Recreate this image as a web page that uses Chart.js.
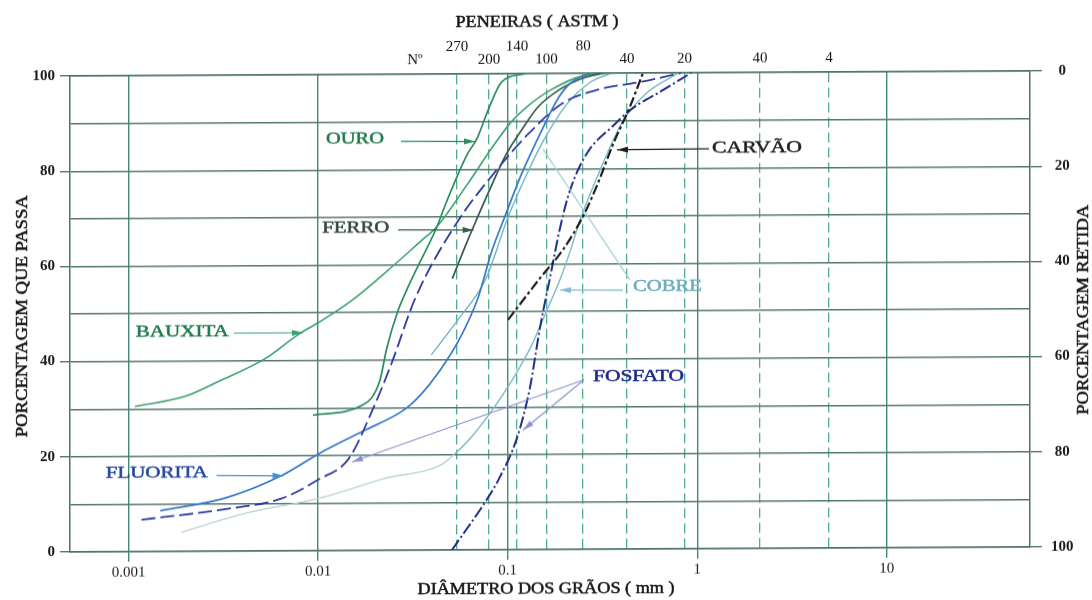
<!DOCTYPE html>
<html>
<head>
<meta charset="utf-8">
<title>Curvas granulométricas</title>
<script src="https://cdn.jsdelivr.net/npm/chart.js@4.4.1/dist/chart.umd.min.js"></script>
<style>
  html, body { margin: 0; padding: 0; background: #fff; }
  /* the printed sheet sits slightly tilted */
  #wrap { width: 1092px; height: 600px; transform: skewY(-0.3deg); transform-origin: 70px 0; }
</style>
</head>
<body>
<div id="wrap"><canvas id="granChart"></canvas></div>
<script>
// diâmetro dos grãos (mm) e porcentagem que passa, por minério
const bauxitaD = [0.00108, 0.002, 0.003, 0.0052, 0.0079, 0.0101, 0.015, 0.023, 0.035, 0.042, 0.061, 0.0827, 0.105, 0.126, 0.168, 0.25, 0.35];
const bauxitaP = [30.5, 32.6, 35.7, 40.3, 45.5, 48, 52.5, 58.6, 65, 67.8, 76.7, 84.5, 90, 93, 96.5, 99.5, 100];

const ouroD = [0.0094, 0.0171, 0.0211, 0.023, 0.0262, 0.0292, 0.033, 0.042, 0.0474, 0.061, 0.069, 0.08, 0.093, 0.124];
const ouroP = [28.5, 30.5, 35.5, 42.4, 50, 54.5, 59, 67.6, 73, 83, 86.5, 93, 98.3, 100];

const ferroD = [0.051, 0.06, 0.0655, 0.08, 0.098, 0.12, 0.144, 0.186, 0.25, 0.32];
const ferroP = [57, 64, 67.6, 75.5, 83, 88.5, 92.9, 96.5, 99, 100];

const fluoritaD = [0.00147, 0.0032, 0.0064, 0.0101, 0.0171, 0.0284, 0.0345, 0.0435, 0.056, 0.0698, 0.0825, 0.096, 0.118, 0.151, 0.186, 0.215, 0.27];
const fluoritaP = [8.6, 11.1, 15.8, 20.4, 25, 29.5, 32.5, 37.5, 44.5, 53, 62.8, 69.7, 78.8, 88, 95, 98, 100];

const cobre1D = [0.0395, 0.055, 0.0768, 0.1, 0.13, 0.155, 0.2, 0.27, 0.35];
const cobre1P = [41, 48.5, 57, 69.7, 80, 86, 93, 98, 100];

const cobre2D = [0.0019, 0.0042, 0.0101, 0.022, 0.045, 0.052, 0.062, 0.08, 0.105, 0.134, 0.16, 0.19, 0.215, 0.24, 0.295, 0.4, 0.53, 0.8];
const cobre2P = [4, 8, 11, 15, 18, 20, 23, 28.5, 35.5, 43, 50, 57, 63, 69, 78, 89.5, 95.5, 100];

const fosfatoFinoD = [0.00117, 0.0032, 0.0064, 0.0101, 0.0145, 0.0195, 0.0242, 0.0326, 0.053, 0.0866, 0.129, 0.194, 0.29, 0.53, 0.82];
const fosfatoFinoP = [6.7, 8.8, 11, 15, 19.3, 29.8, 38.9, 53, 68.3, 79.6, 87.4, 93.7, 96.4, 98.3, 100];

const fosfatoGrossoD = [0.0508, 0.0806, 0.0902, 0.112, 0.131, 0.148, 0.167, 0.189, 0.213, 0.262, 0.359, 0.442, 0.659, 0.93];
const fosfatoGrossoP = [0, 11.6, 15, 23.5, 34, 46.6, 57, 67.6, 75.4, 83.2, 88.9, 92.2, 96.4, 100];

const carvaoD = [0.1004, 0.148, 0.196, 0.25, 0.3, 0.359, 0.442, 0.517];
const carvaoP = [48.3, 57, 63, 70, 77, 85, 93, 100];

// eixos
const decadeTicks = [0.001, 0.01, 0.1, 1, 10];
const decadeLabels = ['0.001', '0.01', '0.1', '1', '10'];
const sieveSizes = [0.054, 0.0797, 0.112, 0.16, 0.25, 0.4257, 0.856, 2.14, 4.95];
const sieveLabels = ['270', '200', '140', '100', '80', '40', '20', '40', '4'];
const sieveRow = [0, 1, 0, 1, 0, 1, 1, 1, 1]; // 0 = linha de cima

const X_MIN = 0.000491, X_MAX = 56.9;
const FONT = "'Liberation Serif', 'Times New Roman', serif";

// nomes das curvas e setas (coordenadas no próprio gráfico)
const curveLabels = [
  { text: 'OURO', at: [0.01565, 86.4], w: 58, color: '#1f7a4c' },
  { text: 'FERRO', at: [0.0158, 67.75], w: 67, color: '#33463f' },
  { text: 'CARVÃO', at: [2.065, 84.1], w: 90, color: '#1d1d1d' },
  { text: 'BAUXITA', at: [0.00192, 46.1], w: 93, color: '#1f7a4c' },
  { text: 'FLUORITA', at: [0.001408, 16.5], w: 102, color: '#23489c' },
  { text: 'COBRE', at: [0.6965, 55.0], w: 69, color: '#6aaebe' },
  { text: 'FOSFATO', at: [0.4897, 36.1], w: 91, color: '#1c2a86' }
];
const pointers = [
  { from: [0.02736, 85.9], to: [0.0672, 85.8], color: '#2b8c5c', head: true },
  { from: [0.02638, 67.3], to: [0.0661, 67.2], color: '#3a5a4e', head: true },
  { from: [1.153, 84.0], to: [0.377, 83.9], color: '#1d1d1d', head: true },
  { from: [0.0036, 45.8], to: [0.00832, 45.8], color: '#3ca06e', head: true },
  { from: [0.00291, 15.9], to: [0.00657, 15.8], color: '#4a8fd0', head: true },
  { from: [0.4055, 54.4], to: [0.1888, 54.5], color: '#7fbccb', head: true },
  { from: [0.4416, 56.5], to: [0.1535, 84.1], color: '#a3cfd8', head: false },
  { from: [0.2526, 35.6], to: [0.0151, 18.6], color: '#8d93cf', head: true },
  { from: [0.2526, 35.6], to: [0.1204, 25.1], color: '#8d93cf', head: true }
];

function curve(label, ds, ps, style) {
  return Object.assign({
    label: label,
    data: ds.map((d, i) => ({ x: d, y: ps[i] })),
    xAxisID: 'x',
    yAxisID: 'y',
    pointRadius: 0,
    borderWidth: 1.7,
    fill: false,
    cubicInterpolationMode: 'monotone'
  }, style);
}

// text stretched to a given width, with a thin outline so it reads heavier
function fitText(ctx, text, x, y, w, rot) {
  const m = ctx.measureText(text).width;
  ctx.save();
  ctx.translate(x, y);
  if (rot) ctx.rotate(rot);
  ctx.scale(w / m, 1);
  ctx.strokeStyle = ctx.fillStyle;
  ctx.lineWidth = 0.5;
  ctx.fillText(text, 0, 0);
  ctx.strokeText(text, 0, 0);
  ctx.restore();
}

function arrow(ctx, x1, y1, x2, y2, head) {
  ctx.beginPath();
  ctx.moveTo(x1, y1);
  ctx.lineTo(x2, y2);
  ctx.stroke();
  if (!head) return;
  const a = Math.atan2(y2 - y1, x2 - x1);
  const c = Math.cos(a), s = Math.sin(a);
  ctx.beginPath();
  ctx.moveTo(x2, y2);
  ctx.lineTo(x2 - 11 * c + 3 * s, y2 - 11 * s - 3 * c);
  ctx.lineTo(x2 - 11 * c - 3 * s, y2 - 11 * s + 3 * c);
  ctx.closePath();
  ctx.fill();
}

const extras = {
  id: 'extras',
  afterDatasetsDraw(chart) {
    const { ctx, chartArea } = chart;
    const x = chart.scales.x, y = chart.scales.y, sieve = chart.scales.sieve;
    ctx.save();
    ctx.lineWidth = 1.2;
    pointers.forEach(p => {
      ctx.strokeStyle = p.color;
      ctx.fillStyle = p.color;
      arrow(ctx,
        x.getPixelForValue(p.from[0]), y.getPixelForValue(p.from[1]),
        x.getPixelForValue(p.to[0]), y.getPixelForValue(p.to[1]), p.head);
    });

    ctx.textAlign = 'center';
    ctx.textBaseline = 'middle';
    ctx.font = '16px ' + FONT;
    curveLabels.forEach(l => {
      ctx.fillStyle = l.color;
      fitText(ctx, l.text, x.getPixelForValue(l.at[0]), y.getPixelForValue(l.at[1]), l.w);
    });

    // números das peneiras
    ctx.fillStyle = '#111';
    ctx.font = '15px ' + FONT;
    sieveSizes.forEach((s, i) => {
      ctx.fillText(sieveLabels[i], sieve.getPixelForValue(s), chartArea.top - (sieveRow[i] ? 14 : 27));
    });
    ctx.fillText('Nº', sieve.getPixelForValue(0.0324), chartArea.top - 14);

    // títulos
    ctx.fillStyle = '#151515';
    ctx.font = '17px ' + FONT;
    fitText(ctx, 'PENEIRAS ( ASTM )', 537, 25, 163);
    ctx.font = '16px ' + FONT;
    fitText(ctx, 'DIÂMETRO DOS GRÃOS ( mm )', 546, 592, 257);
    fitText(ctx, 'PORCENTAGEM QUE PASSA', 23, 316, 242, -Math.PI / 2);
    fitText(ctx, 'PORCENTAGEM RETIDA', 1084, 315, 210, -Math.PI / 2);
    ctx.restore();
  }
};

const GRID_H = '#56786e';
const GRID_V = '#3f8a78';
const BORDER = '#4e7268';

new Chart(document.getElementById('granChart'), {
  type: 'line',
  data: {
    datasets: [
      curve('CARVÃO', carvaoD, carvaoP, { borderColor: '#1e1e1e', borderWidth: 2.2, borderDash: [10, 3, 3, 3] }),
      curve('FOSFATO', fosfatoGrossoD, fosfatoGrossoP, { borderColor: '#1e2d8c', borderWidth: 2, borderDash: [12, 3, 2, 3] }),
      curve('FOSFATO', fosfatoFinoD, fosfatoFinoP, { borderColor: '#2d3ca0', borderWidth: 1.8, borderDash: [14, 5] }),
      curve('FLUORITA', fluoritaD, fluoritaP, { borderColor: '#3478c8' }),
      curve('FERRO', ferroD, ferroP, { borderColor: '#37574b' }),
      curve('OURO', ouroD, ouroP, { borderColor: '#2b8c5c' }),
      curve('BAUXITA', bauxitaD, bauxitaP, { borderColor: '#3ca06e', borderWidth: 1.6 }),
      curve('COBRE', cobre1D, cobre1P, { borderColor: '#6eb4c3', borderWidth: 1.4 }),
      curve('COBRE', cobre2D, cobre2P, {
        borderColor: '#7ab8c6', borderWidth: 1.4,
        segment: { borderColor: c => c.p1.parsed.x <= 0.06 ? '#b9d2d6' : '#7ab8c6' }
      })
    ]
  },
  options: {
    responsive: true,
    maintainAspectRatio: false,
    animation: false,
    layout: { padding: 0 },
    plugins: { legend: { display: false }, tooltip: { enabled: false } },
    scales: {
      x: {
        type: 'logarithmic', axis: 'x', position: 'bottom',
        min: X_MIN, max: X_MAX,
        afterBuildTicks: s => { s.ticks = decadeTicks.map(v => ({ value: v })); },
        afterFit: s => { s.height = 48; },
        ticks: {
          autoSkip: false, maxRotation: 0, padding: 2, color: '#222',
          font: { family: FONT, size: 15 },
          callback: (v, i) => decadeLabels[i]
        },
        grid: { color: GRID_V, lineWidth: 1.4, tickLength: 10, tickColor: GRID_V },
        border: { color: BORDER, width: 1.5 }
      },
      sieve: {
        type: 'logarithmic', axis: 'x', position: 'top',
        min: X_MIN, max: X_MAX,
        afterBuildTicks: s => { s.ticks = sieveSizes.map(v => ({ value: v })); },
        afterFit: s => { s.height = 76; },
        ticks: { display: false },
        grid: { color: '#52ab8f', lineWidth: 1.3, drawTicks: false },
        border: { color: BORDER, width: 1.5, dash: [10, 5] }
      },
      y: {
        axis: 'y', position: 'left', min: 0, max: 100,
        afterFit: s => { s.width = 70; },
        ticks: {
          stepSize: 10, padding: 5, color: '#1a1a1a',
          font: { family: FONT, size: 15, weight: 'bold' },
          callback: v => (v % 20 === 0 ? v : '')
        },
        grid: {
          color: GRID_H, lineWidth: 1.4, tickLength: 10,
          tickColor: c => (c.tick && c.tick.value % 20 === 0) ? GRID_H : 'rgba(0,0,0,0)'
        },
        border: { color: BORDER, width: 1.5 }
      },
      yr: {
        axis: 'y', position: 'right', min: 0, max: 100, reverse: true,
        afterFit: s => { s.width = 62; },
        ticks: {
          stepSize: 20, padding: 9, crossAlign: 'center', color: '#1a1a1a',
          font: { family: FONT, size: 15, weight: 'bold' }
        },
        grid: { drawOnChartArea: false, color: GRID_H, lineWidth: 1.4, tickLength: 12 },
        border: { color: BORDER, width: 1.5 }
      }
    }
  },
  plugins: [extras]
});
</script>
</body>
</html>
